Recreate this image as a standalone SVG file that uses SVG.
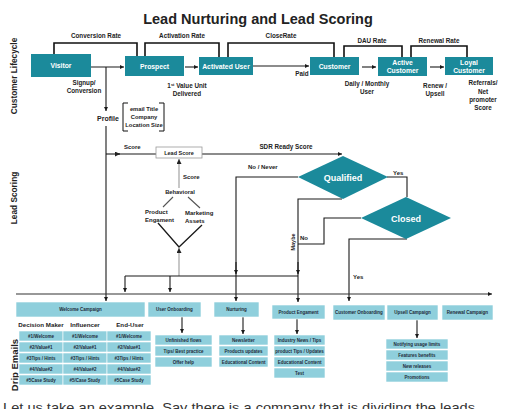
<svg xmlns="http://www.w3.org/2000/svg" width="512" height="409" viewBox="0 0 512 409">
<defs>
<marker id="a" viewBox="0 0 10 10" refX="10" refY="5" markerWidth="4.5" markerHeight="4.5" markerUnits="userSpaceOnUse" orient="auto"><path d="M0,0 L10,5 L0,10 z" fill="#1a1a1a"/></marker>
<marker id="g" viewBox="0 0 10 10" refX="10" refY="5" markerWidth="5" markerHeight="5" markerUnits="userSpaceOnUse" orient="auto"><path d="M0,0 L10,5 L0,10 z" fill="#222"/></marker>
</defs>
<style>
text{font-family:"Liberation Sans",Arial,sans-serif;font-weight:700;fill:#222}
.box{fill:#1b8a9b}
.bt{fill:#fff;font-size:6.8px;text-anchor:middle}
.lb{font-size:6.3px;text-anchor:middle}
.ls{font-size:6px}
.ln{stroke:#1a1a1a;stroke-width:1.1;fill:none}
.br{stroke:#111;stroke-width:1.6;fill:none}
.gr{stroke:#9a9a9a;stroke-width:1.1;fill:none}
.db{fill:#8fcfdc;stroke:#fff;stroke-width:0.6}
.dt{font-size:4.5px;fill:#1d2b3a;text-anchor:middle}
.dh{font-size:6.2px;text-anchor:middle}
.side{font-size:8.3px;text-anchor:middle}
</style>
<rect width="512" height="409" fill="#fff"/>
<text x="258" y="24" font-size="14.5" text-anchor="middle" style="font-size:14.5px">Lead Nurturing and Lead Scoring</text>
<text class="side" transform="translate(17,76) rotate(-90)">Customer Lifecycle</text>
<text class="side" transform="translate(17,198) rotate(-90)">Lead Scoring</text>
<text class="side" transform="translate(17.5,365) rotate(-90)" style="font-size:9.5px">Drip Emails</text>

<g id="connectors">
<path class="br" d="M54,54 V43 H137 V56"/>
<path class="br" d="M145,56 V43 H219 V57"/>
<path class="br" d="M228,57 V43 H334 V57"/>
<path class="br" d="M344,57 V46 H402 V57"/>
<path class="br" d="M411,57 V46 H467 V57"/>
<path class="ln" d="M91,67 H124" marker-end="url(#a)"/>
<path class="ln" d="M106,67 V111" marker-end="url(#a)"/>
<path class="ln" d="M185,67 H198" marker-end="url(#a)"/>
<path class="ln" d="M253,66 H309" marker-end="url(#a)"/>
<path class="ln" d="M362,67 H376" marker-end="url(#a)"/>
<path class="ln" d="M430,67 H444" marker-end="url(#a)"/>
<path class="ln" d="M106,126 V301" marker-end="url(#a)"/>
<path class="ln" d="M106,154 H120" marker-end="url(#g)"/>
<path class="ln" d="M118,154 H156"/>
<path class="ln" d="M202,154 H342" marker-end="url(#a)"/>
<path class="br" style="stroke-width:1" d="M128,103 H123 V131 H128 M159,103 H164 V131 H159"/>
<path class="gr" d="M179,188 V159" marker-end="url(#g)"/>
<path class="ln" style="stroke:#555" d="M173,197 L163,207 M188,197 L200,208"/>
<path class="ln" style="stroke-width:1.3" d="M158,223 L179,247 L202,225"/>
<path class="gr" d="M179,276 V248" marker-end="url(#g)"/>
<path class="ln" d="M125,276 H298"/>
<path class="ln" d="M125,276 V292" marker-end="url(#a)"/>
<path class="ln" d="M170,276 V292" marker-end="url(#a)"/>
<path class="ln" d="M298,177 H236 V301" marker-end="url(#a)"/>
<path class="ln" d="M236,262 V274" marker-end="url(#a)"/>
<path class="ln" d="M342,199 H298 V302" marker-end="url(#a)"/>
<path class="ln" d="M298,262 V274" marker-end="url(#a)"/>
<path class="ln" d="M387,177 H407 V197"/>
<path class="ln" d="M361,218 H324 V244 H298"/>
<path class="ln" d="M407,239 H349 V301" marker-end="url(#a)"/>
<path class="ln" style="stroke:#333" d="M16,294 H492" marker-end="url(#a)"/>
<path class="ln" d="M182,317 V333" marker-end="url(#a)"/>
<path class="ln" d="M243,317 V334" marker-end="url(#a)"/>
<path class="ln" d="M297,319 V334" marker-end="url(#a)"/>
<path class="ln" d="M417,320 V338" marker-end="url(#a)"/>
</g>

<g id="labels">
<text class="lb" x="96" y="38">Conversion Rate</text>
<text class="lb" x="182" y="38">Activation Rate</text>
<text class="lb" x="281" y="38">CloseRate</text>
<text class="lb" x="372" y="43">DAU Rate</text>
<text class="lb" x="439" y="43">Renewal Rate</text>
<text class="lb" x="84" y="84.5">Signup/</text>
<text class="lb" x="84" y="93">Conversion</text>
<text class="lb" x="187" y="88">1<tspan font-size="4" dy="-2.5">st</tspan><tspan dy="2.5"> Value Unit</tspan></text>
<text class="lb" x="187" y="96">Delivered</text>
<text class="lb" x="302" y="76">Paid</text>
<text class="lb" x="367" y="86">Daily / Monthly</text>
<text class="lb" x="367" y="94">User</text>
<text class="lb" x="435" y="88">Renew /</text>
<text class="lb" x="435" y="96">Upsell</text>
<text class="lb" x="483" y="85">Referrals/</text>
<text class="lb" x="483" y="93.5">Net</text>
<text class="lb" x="483" y="102">promoter</text>
<text class="lb" x="483" y="110">Score</text>
<text class="lb" x="108" y="121" style="font-size:7px">Profile</text>
<text class="ls" x="124" y="149">Score</text>
<text class="lb" x="286" y="149">SDR Ready Score</text>
<text class="ls" x="248" y="169">No / Never</text>
<text class="ls" x="183" y="179">Score</text>
<text class="lb" x="180" y="194" style="font-size:5.8px">Behavioral</text>
<text class="ls" x="145" y="214">Product</text>
<text class="ls" x="145" y="221.5">Engament</text>
<text class="ls" x="185" y="215">Marketing</text>
<text class="ls" x="185" y="223">Assets</text>
<text class="ls" x="393" y="175">Yes</text>
<text class="ls" x="300" y="240">No</text>
<text class="ls" x="353" y="279">Yes</text>
<text class="ls" transform="translate(295,242) rotate(-90)" text-anchor="middle" style="font-size:5.5px">Maybe</text>
<text class="dh" x="41" y="327">Decision Maker</text>
<text class="dh" x="85" y="327">Influencer</text>
<text class="dh" x="130" y="327">End-User</text>
</g>

<g id="visitor"><rect class="box" x="31" y="54" width="60" height="23"/><text class="bt" x="61" y="68">Visitor</text></g>
<g id="prospect"><rect class="box" x="125" y="56" width="59" height="20"/><text class="bt" x="154.5" y="68.5">Prospect</text></g>
<g id="activated-user"><rect class="box" x="199" y="57" width="54" height="18"/><text class="bt" x="226" y="68.5">Activated User</text></g>
<g id="customer"><rect class="box" x="310" y="57" width="49" height="18"/><text class="bt" x="334.5" y="68.5">Customer</text></g>
<g id="active-customer"><rect class="box" x="378" y="57" width="49" height="19"/><text class="bt" x="402.5" y="64.5">Active</text><text class="bt" x="402.5" y="72.5">Customer</text></g>
<g id="loyal-customer"><rect class="box" x="445" y="57" width="48" height="18"/><text class="bt" x="469" y="64.5">Loyal</text><text class="bt" x="469" y="72.5">Customer</text></g>

<g id="profile-attrs"><text class="lb" x="144" y="111" style="font-size:5.8px">email Title</text><text class="lb" x="144" y="119" style="font-size:5.8px">Company</text><text class="lb" x="144" y="126.5" style="font-size:5.8px">Location Size</text></g>
<g id="lead-score"><rect x="156" y="147" width="46" height="11" fill="#fff" stroke="#999" stroke-width="0.8"/><text class="lb" x="179" y="154.5" style="font-size:5.5px">Lead Score</text></g>
<g id="qualified"><path class="box" d="M343,156 L388,177 L343,199 L298,177 z"/><text class="bt" x="343" y="180.5" style="font-size:9px">Qualified</text></g>
<g id="closed"><path class="box" d="M406,197 L451,218 L406,239 L361,218 z"/><text class="bt" x="406" y="221.5" style="font-size:9px">Closed</text></g>

<g id="welcome-campaign">
<rect class="db" x="16" y="302" width="129" height="15"/><text class="dt" x="80.5" y="311">Welcome Campaign</text>
<rect class="db" x="19" y="331" width="44" height="10"/><text class="dt" x="41" y="337.5">#1/Welcome</text>
<rect class="db" x="19" y="342" width="44" height="10"/><text class="dt" x="41" y="348.5">#2/Value#1</text>
<rect class="db" x="19" y="353" width="44" height="10"/><text class="dt" x="41" y="359.5">#3Tips / Hints</text>
<rect class="db" x="19" y="364" width="44" height="10"/><text class="dt" x="41" y="370.5">#4/Value#2</text>
<rect class="db" x="19" y="375" width="44" height="10"/><text class="dt" x="41" y="381.5">#5Case Study</text>
<rect class="db" x="63" y="331" width="44" height="10"/><text class="dt" x="85" y="337.5">#1/Welcome</text>
<rect class="db" x="63" y="342" width="44" height="10"/><text class="dt" x="85" y="348.5">#2/Value#1</text>
<rect class="db" x="63" y="353" width="44" height="10"/><text class="dt" x="85" y="359.5">#3Tips / Hints</text>
<rect class="db" x="63" y="364" width="44" height="10"/><text class="dt" x="85" y="370.5">#4/Value#2</text>
<rect class="db" x="63" y="375" width="44" height="10"/><text class="dt" x="85" y="381.5">#5/Case Study</text>
<rect class="db" x="107" y="331" width="44" height="10"/><text class="dt" x="129" y="337.5">#1/Welcome</text>
<rect class="db" x="107" y="342" width="44" height="10"/><text class="dt" x="129" y="348.5">#2/Value#1</text>
<rect class="db" x="107" y="353" width="44" height="10"/><text class="dt" x="129" y="359.5">#3Tips / Hints</text>
<rect class="db" x="107" y="364" width="44" height="10"/><text class="dt" x="129" y="370.5">#4/Value#2</text>
<rect class="db" x="107" y="375" width="44" height="10"/><text class="dt" x="129" y="381.5">#5Case Study</text>
</g>
<g id="user-onboarding">
<rect class="db" x="148" y="302" width="53" height="15"/><text class="dt" x="174.5" y="311">User Onboarding</text>
<rect class="db" x="155" y="335" width="57" height="10"/><text class="dt" x="183.5" y="341.5">Unfinished flows</text>
<rect class="db" x="155" y="346" width="57" height="10"/><text class="dt" x="183.5" y="352.5">Tips/ Best practice</text>
<rect class="db" x="155" y="357" width="57" height="10"/><text class="dt" x="183.5" y="363.5">Offer help</text>
</g>
<g id="nurturing">
<rect class="db" x="214" y="302" width="45" height="15"/><text class="dt" x="236.5" y="311">Nurturing</text>
<rect class="db" x="219" y="335" width="49" height="10"/><text class="dt" x="243.5" y="341.5">Newsletter</text>
<rect class="db" x="219" y="346" width="49" height="10"/><text class="dt" x="243.5" y="352.5">Products updates</text>
<rect class="db" x="219" y="357" width="49" height="10"/><text class="dt" x="243.5" y="363.5">Educational Content</text>
</g>
<g id="product-engagement">
<rect class="db" x="272" y="305" width="53" height="14"/><text class="dt" x="298.5" y="313.5">Product Engament</text>
<rect class="db" x="274" y="335" width="51" height="10"/><text class="dt" x="299.5" y="341.5">Industry News / Tips</text>
<rect class="db" x="274" y="346" width="51" height="10"/><text class="dt" x="299.5" y="352.5">product Tips / Updates</text>
<rect class="db" x="274" y="357" width="51" height="10"/><text class="dt" x="299.5" y="363.5">Educational Content</text>
<rect class="db" x="274" y="368" width="51" height="10"/><text class="dt" x="299.5" y="374.5">Test</text>
</g>
<g id="customer-onboarding"><rect class="db" x="333" y="305" width="52" height="15"/><text class="dt" x="359" y="313.8">Customer Onboarding</text></g>
<g id="upsell-campaign">
<rect class="db" x="387" y="305" width="51" height="15"/><text class="dt" x="412.5" y="313.8">Upsell Campaign</text>
<rect class="db" x="386" y="339" width="62" height="10"/><text class="dt" x="417" y="345.5">Notifying usage limits</text>
<rect class="db" x="386" y="350" width="62" height="10"/><text class="dt" x="417" y="356.5">Features benefits</text>
<rect class="db" x="386" y="361" width="62" height="10"/><text class="dt" x="417" y="367.5">New releases</text>
<rect class="db" x="386" y="372" width="62" height="10"/><text class="dt" x="417" y="378.5">Promotions</text>
</g>
<g id="renewal-campaign"><rect class="db" x="442" y="305" width="51" height="15"/><text class="dt" x="467.5" y="313.8">Renewal Campaign</text></g>

<text x="3" y="412" style="font-size:13px;font-weight:400;fill:#333" textLength="472" lengthAdjust="spacingAndGlyphs">Let us take an example. Say there is a company that is dividing the leads</text>
</svg>
